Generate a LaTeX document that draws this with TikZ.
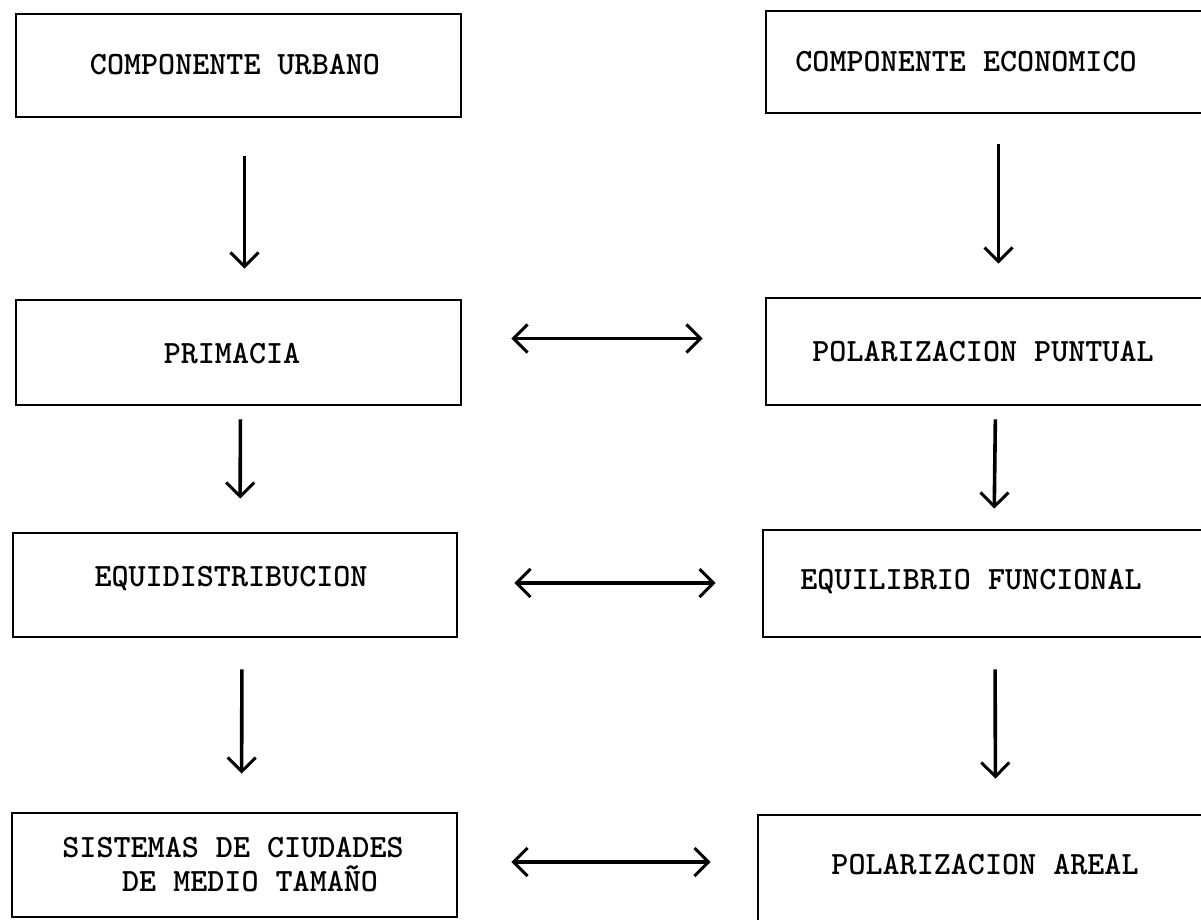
\documentclass[tikz,border=0pt]{standalone}
\usepackage{fontspec}
\usetikzlibrary{arrows.meta}
\begin{document}
\begin{tikzpicture}[x=1pt,y=-1pt,
  box/.style={draw,line width=2.8pt,inner sep=0pt},
  lbl/.style={font=\ttfamily\bfseries\fontsize{32.5}{34}\selectfont,inner sep=0pt,align=center},
  tip/.style={},
  arr/.style={line width=3.6pt,-{Straight Barb[length=14pt,width=28pt,line width=3pt]}},
  darr/.style={line width=3.6pt,{Straight Barb[length=14pt,width=28pt,line width=3pt]}-{Straight Barb[length=14pt,width=28pt,line width=3pt]}}]
\useasboundingbox (0,0) rectangle (1201,919);
\begin{scope}
\clip (0,0) rectangle (1201,919);
\node[box,minimum width=445pt,minimum height=103pt] (b1) at (238.5,65.5) {};
\node[box,minimum width=449pt,minimum height=102pt] (b2) at (990.5,62) {};
\node[box,minimum width=445pt,minimum height=105pt] (b3) at (238.5,352.5) {};
\node[box,minimum width=449pt,minimum height=107pt] (b4) at (990.5,351.5) {};
\node[box,minimum width=444pt,minimum height=104pt] (b5) at (235,585) {};
\node[box,minimum width=452pt,minimum height=107pt] (b6) at (989,583.5) {};
\node[box,minimum width=445pt,minimum height=104pt] (b7) at (234.5,865) {};
\node[box,minimum width=457pt,minimum height=115pt] (b8) at (986.5,872.5) {};
\end{scope}
\node[lbl] (t1) at (235,65) {COMPONENTE URBANO};
\node[lbl] (t2) at (966,62) {COMPONENTE ECONOMICO};
\node[lbl] (t3) at (232,354) {PRIMACIA};
\node[lbl] (t4) at (983,352) {POLARIZACION PUNTUAL};
\node[lbl] (t5) at (231,579) {EQUIDISTRIBUCION};
\node[lbl] (t6) at (971,582) {EQUILIBRIO FUNCIONAL};
\node[lbl] (t7) at (233,865) {SISTEMAS DE CIUDADES\\\ \ DE MEDIO TAMAÑO};
\node[lbl] (t8) at (985,865) {POLARIZACION AREAL};
% vertical arrows
\draw[arr,shorten <=38pt,shorten >=30pt] ([xshift=6pt]b1.south) -- ([xshift=6pt]b3.north);
\draw[arr,shorten <=13pt,shorten >=33pt] ([xshift=2pt]b3.south) -- ([xshift=5pt]b5.north);
\draw[arr,shorten <=31pt,shorten >=38pt] ([xshift=7pt]b5.south) -- ([xshift=7pt]b7.north);
\draw[arr,shorten <=30pt,shorten >=33pt] ([xshift=8pt]b2.south) -- ([xshift=8pt]b4.north);
\draw[arr,shorten <=13pt,shorten >=20pt] ([xshift=5pt]b4.south) -- ([xshift=5pt]b6.north);
\draw[arr,shorten <=31pt,shorten >=35pt] ([xshift=6pt]b6.south) -- ([xshift=9pt]b8.north);
% horizontal arrows
\draw[darr,shorten <=49pt,shorten >=62pt] ([yshift=14pt]b3.east) -- ([yshift=13pt]b4.west);
\draw[darr,shorten <=56pt,shorten >=46pt] ([yshift=2pt]b5.east) -- (b6.west |- {(0,583)});
\draw[darr,shorten <=53pt,shorten >=46pt] ([yshift=3pt]b7.east) -- (b8.west |- {(0,862)});
\end{tikzpicture}
\end{document}
